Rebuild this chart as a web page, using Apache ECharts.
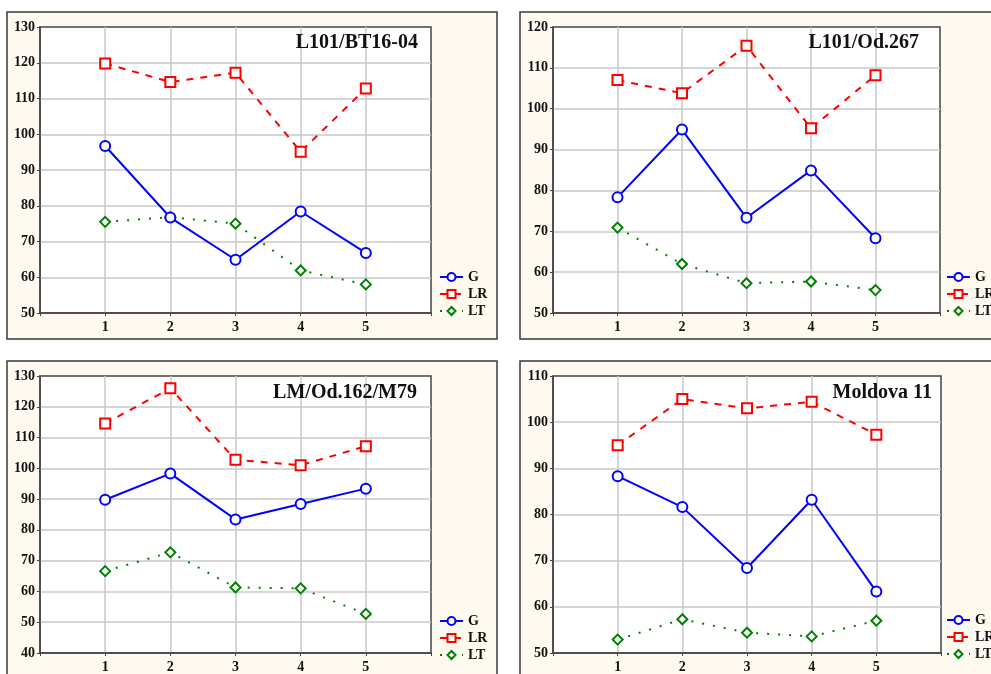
<!DOCTYPE html>
<html>
<head>
<meta charset="utf-8">
<script src="https://cdn.jsdelivr.net/npm/echarts@6/dist/echarts.min.js"></script>
<style>
html,body{margin:0;padding:0;background:#ffffff;}
#c{width:991px;height:674px;}
</style>
</head>
<body>
<div id="c"></div>
<script>
// ---- data ----
const xTicks = [1, 2, 3, 4, 5];
const seriesNames = ['G', 'LR', 'LT'];
const panelTitles = ['L101/BT16-04', 'L101/Od.267', 'LM/Od.162/M79', 'Moldova 11'];
const yMins = [50, 50, 40, 50];
const yMaxs = [130, 120, 130, 110];

const p1G  = [96.7, 76.7, 64.9, 78.4, 66.8];
const p1LR = [119.8, 114.6, 117.2, 95.1, 112.8];
const p1LT = [75.5, 76.8, 75.0, 61.9, 58.0];

const p2G  = [78.3, 94.9, 73.3, 84.9, 68.3];
const p2LR = [107.0, 103.8, 115.4, 95.2, 108.2];
const p2LT = [70.9, 62.0, 57.3, 57.7, 55.6];

const p3G  = [89.8, 98.3, 83.4, 88.4, 93.4];
const p3LR = [114.6, 126.0, 102.8, 101.0, 107.2];
const p3LT = [66.6, 72.7, 61.3, 61.0, 52.7];

const p4G  = [88.3, 81.6, 68.4, 83.2, 63.3];
const p4LR = [95.0, 105.0, 103.0, 104.4, 97.3];
const p4LT = [52.9, 57.3, 54.4, 53.6, 57.0];

const panelData = [
  [p1G, p1LR, p1LT],
  [p2G, p2LR, p2LT],
  [p3G, p3LR, p3LT],
  [p4G, p4LR, p4LT]
];

// ---- layout / style ----
const FONT = "'Liberation Serif', 'Times New Roman', serif";
const grids = [
  {left: 40,  top: 27,  width: 391, height: 286},
  {left: 553, top: 27,  width: 387, height: 286},
  {left: 40,  top: 376, width: 391, height: 278},
  {left: 553, top: 376, width: 388, height: 278}
];
const frames = [
  {x: 7,   y: 12,  width: 490, height: 327},
  {x: 520, y: 12,  width: 500, height: 327},
  {x: 7,   y: 361, width: 490, height: 330},
  {x: 520, y: 361, width: 500, height: 330}
];
const titlePos = [
  {right: 573, top: 33},
  {right: 72,  top: 33},
  {right: 574, top: 383},
  {right: 59,  top: 383}
];
const legendPos = [
  {left: 439, top: 270},
  {left: 946, top: 270},
  {left: 439, top: 614},
  {left: 946, top: 613}
];
const styles = [
  {color: '#0000ff', symbol: 'emptyCircle', size: 10, lineType: 'solid', lw: 2},
  {color: '#ff0000', symbol: 'emptyRect', size: 10, lineType: [7, 7], lw: 2},
  {color: '#008000', symbol: 'emptyDiamond', size: 10, lineType: [2, 9], lw: 2}
];

const option = {
  animation: false,
  backgroundColor: '#ffffff',
  graphic: {
    elements: frames.map(f => ({
      type: 'rect', z: -100, silent: true,
      shape: {x: f.x, y: f.y, width: f.width, height: f.height},
      style: {fill: '#fffaef', stroke: '#3a3a3a', lineWidth: 1.5}
    }))
  },
  title: panelTitles.map((t, i) => Object.assign({
    text: t, padding: 0,
    textStyle: {fontFamily: FONT, fontWeight: 'bold', fontSize: 20, color: '#111'}
  }, titlePos[i])),
  legend: legendPos.map(p => Object.assign({
    orient: 'vertical', data: seriesNames, itemWidth: 23, itemHeight: 10, itemGap: 3,
    padding: 0, selectedMode: false,
    textStyle: {fontFamily: FONT, fontWeight: 'bold', fontSize: 14, color: '#111'}
  }, p)),
  grid: grids.map(g => Object.assign({
    show: true, backgroundColor: '#ffffff', borderColor: '#444', borderWidth: 1.5
  }, g)),
  xAxis: grids.map((g, i) => ({
    type: 'value', gridIndex: i, min: 0, max: 6, interval: 1,
    axisLine: {show: true, onZero: false, lineStyle: {color: '#444', width: 1.5}},
    axisTick: {show: true, inside: false, length: 3, lineStyle: {color: '#444'}},
    splitLine: {show: true, showMinLine: false, showMaxLine: false, lineStyle: {color: '#c8c8c8', width: 1.5}},
    axisLabel: {
      margin: 7, fontFamily: FONT, fontWeight: 'bold', fontSize: 14, color: '#111',
      formatter: v => (xTicks.indexOf(v) >= 0 ? String(v) : '')
    }
  })),
  yAxis: grids.map((g, i) => ({
    type: 'value', gridIndex: i, min: yMins[i], max: yMaxs[i], interval: 10,
    axisLine: {show: true, onZero: false, lineStyle: {color: '#444', width: 1.5}},
    axisTick: {show: true, inside: false, length: 3, lineStyle: {color: '#444'}},
    splitLine: {show: true, showMinLine: false, showMaxLine: false, lineStyle: {color: '#c8c8c8', width: 1.5}},
    axisLabel: {margin: 5, fontFamily: FONT, fontWeight: 'bold', fontSize: 14, color: '#111'}
  })),
  series: []
};

panelData.forEach((sets, i) => {
  sets.forEach((vals, k) => {
    const s = styles[k];
    option.series.push({
      type: 'line', name: seriesNames[k], xAxisIndex: i, yAxisIndex: i,
      data: xTicks.map((x, j) => [x, vals[j]]),
      symbol: s.symbol, symbolSize: s.size,
      itemStyle: {color: s.color, borderColor: s.color, borderWidth: 2},
      lineStyle: {color: s.color, width: s.lw, type: s.lineType},
      z: 3 + (2 - k)
    });
  });
});

const chart = echarts.init(document.getElementById('c'), null, {renderer: 'canvas'});
chart.setOption(option);
</script>
</body>
</html>
